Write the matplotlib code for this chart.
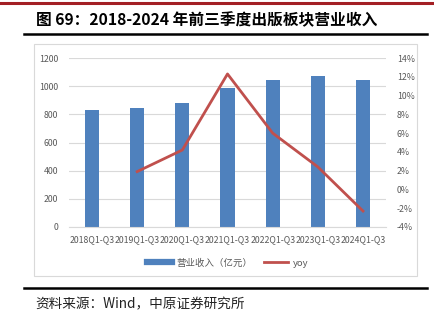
import matplotlib
matplotlib.use("Agg")
import matplotlib.pyplot as plt
from matplotlib.lines import Line2D
from matplotlib.patches import Rectangle
import numpy as np

plt.rcParams['font.family'] = ['Noto Sans CJK SC', 'DejaVu Sans']

periods = ['2018Q1-Q3', '2019Q1-Q3', '2020Q1-Q3', '2021Q1-Q3',
           '2022Q1-Q3', '2023Q1-Q3', '2024Q1-Q3']
revenue = [829, 843, 878, 985, 1044, 1072, 1044]   # 亿元
yoy = [None, 1.9, 4.2, 12.3, 6.0, 2.4, -2.3]         # %

bar_color = '#4f81bd'
line_color = '#c0504d'
tick_color = '#595959'

fig = plt.figure(figsize=(4.34, 3.25), dpi=100)

# top red rule, title and rules around it
fig.add_artist(Line2D([0, 1], [1 - 3 / 325] * 2, color='#a31f24', lw=2.2))
fig.text(36 / 434, 1 - 20 / 325, '图 69：2018-2024 年前三季度出版板块营业收入',
         fontsize=11.3, fontweight='bold', va='center', ha='left')
fig.add_artist(Line2D([24 / 434, 427 / 434], [1 - 34 / 325] * 2, color='black', lw=1.8))
fig.add_artist(Line2D([24 / 434, 427 / 434], [1 - 288 / 325] * 2, color='black', lw=1.8))
fig.text(35 / 434, 1 - 304 / 325, '资料来源：Wind，中原证券研究所',
         fontsize=9.8, va='center', ha='left', color='#222222')

# light frame around the chart area
fig.add_artist(Rectangle((34 / 434, 1 - 276 / 325), (417 - 34) / 434, (276 - 44) / 325,
                         fill=False, edgecolor='#d9d9d9', lw=0.8))

ax = fig.add_axes([69.4 / 434, 1 - 227 / 325, (385.6 - 69.4) / 434, (227 - 58) / 325])
x = np.arange(len(periods))
ax.bar(x, revenue, width=0.31, color=bar_color, zorder=2, label='营业收入（亿元）')
ax.set_xlim(-0.5, len(periods) - 0.5)
ax.set_ylim(0, 1200)
ax.set_yticks(range(0, 1201, 200))
ax.yaxis.grid(True, color='#d9d9d9', lw=0.8, zorder=0)
ax.set_xticks(x)
ax.set_xticklabels(periods)
for s in ax.spines.values():
    s.set_visible(False)
ax.spines['bottom'].set_visible(True)
ax.spines['bottom'].set_color('#d9d9d9')
ax.tick_params(axis='both', length=0, labelsize=6.3, colors=tick_color)
ax.tick_params(axis='x', pad=6)
ax.tick_params(axis='y', pad=8)

ax2 = ax.twinx()
yx = [i for i, v in enumerate(yoy) if v is not None]
yv = [v for v in yoy if v is not None]
ax2.plot(yx, yv, color=line_color, lw=2, label='yoy', zorder=3)
ax2.set_ylim(-4, 14)
ax2.set_yticks(range(-4, 15, 2))
ax2.set_yticklabels([f'{t}%' for t in range(-4, 15, 2)])
for s in ax2.spines.values():
    s.set_visible(False)
ax2.tick_params(axis='y', length=0, labelsize=6.3, colors=tick_color, pad=8)

handles = [Line2D([], [], color=bar_color, lw=4.5), Line2D([], [], color=line_color, lw=2)]
fig.legend(handles, ['营业收入（亿元）', 'yoy'], loc='center',
           bbox_to_anchor=(228 / 434, 1 - 263 / 325), ncol=2, frameon=False,
           fontsize=6.8, labelcolor=tick_color, handlelength=2.6, handletextpad=0.5,
           columnspacing=1.2)

fig.savefig('out.png', dpi=100)
